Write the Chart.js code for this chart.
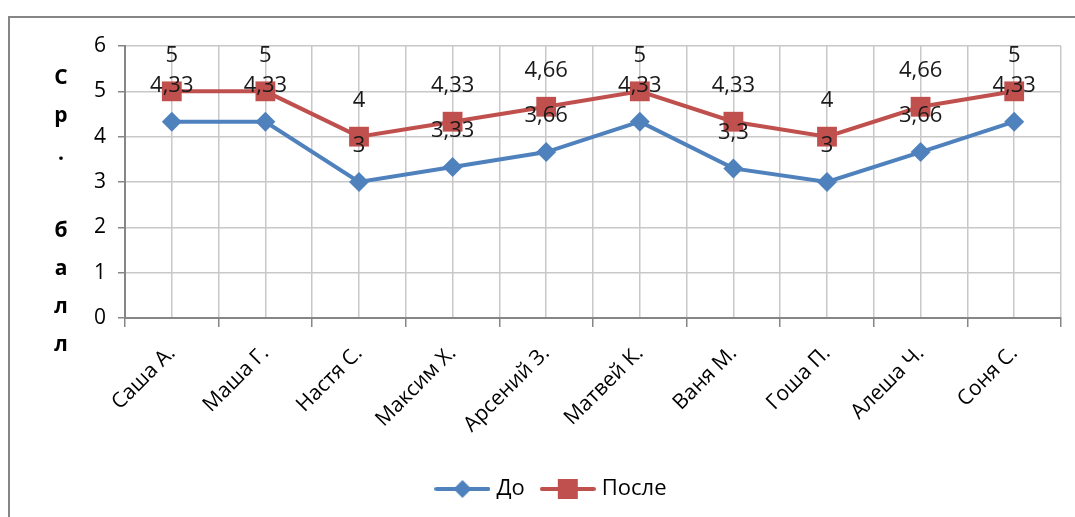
<!DOCTYPE html>
<html>
<head>
<meta charset="utf-8">
<script src="https://cdn.jsdelivr.net/npm/chart.js@4.4.0/dist/chart.umd.min.js"></script>
<style>
  html, body { margin: 0; padding: 0; background: #fff; }
  canvas { display: block; }
</style>
</head>
<body>
<canvas id="scoreChart" width="1075" height="517"></canvas>
<script>
// === data ===
const pupils = ['Саша А.','Маша Г.','Настя С.','Максим Х.','Арсений З.','Матвей К.','Ваня М.','Гоша П.','Алеша Ч.','Соня С.'];
const before = [4.33, 4.33, 3, 3.33, 3.66, 4.33, 3.3, 3, 3.66, 4.33];
const after  = [5, 5, 4, 4.33, 4.66, 5, 4.33, 4, 4.66, 5];
const seriesNames = ['До', 'После'];
const yTicks = [0, 1, 2, 3, 4, 5, 6];
const yTitleLetters = ['С','р','.','','б','а','л','л'];

const BLUE = '#4F81BD', RED = '#C0504D';
const FONT = "'Open Sans', 'Liberation Sans', sans-serif";

// legend swatch: line with the marker in the middle
function swatch(color, kind) {
  const c = document.createElement('canvas');
  c.width = 56; c.height = 22;
  const g = c.getContext('2d');
  g.strokeStyle = color; g.lineWidth = 4; g.lineCap = 'round';
  g.beginPath(); g.moveTo(2, 11); g.lineTo(54, 11); g.stroke();
  g.fillStyle = color;
  if (kind === 'diamond') {
    g.beginPath(); g.moveTo(28, 2); g.lineTo(37, 11); g.lineTo(28, 20); g.lineTo(19, 11); g.closePath(); g.fill();
  } else {
    g.fillRect(18, 1, 20, 20);
  }
  return c;
}
const swatches = [swatch(BLUE, 'diamond'), swatch(RED, 'square')];

// frame round the chart (cut off on the right and bottom)
const framePlugin = {
  id: 'frame',
  beforeDraw(chart) {
    const c = chart.ctx;
    c.save();
    c.fillStyle = '#fff';
    c.fillRect(0, 0, chart.width, chart.height);
    c.strokeStyle = '#868686'; c.lineWidth = 2;
    c.beginPath();
    c.moveTo(9, chart.height); c.lineTo(9, 17); c.lineTo(chart.width, 17);
    c.stroke();
    c.restore();
  }
};

// stacked letters for the y-axis title
const yTitlePlugin = {
  id: 'yTitle',
  afterDraw(chart) {
    const c = chart.ctx;
    c.save();
    c.font = "bold 21px " + FONT;
    c.fillStyle = '#000';
    c.textAlign = 'center'; c.textBaseline = 'middle';
    yTitleLetters.forEach((ch, i) => c.fillText(ch, 61, 78 + i * 38.2));
    c.restore();
  }
};

// value labels above each point
const valueLabels = {
  id: 'valueLabels',
  afterDatasetsDraw(chart) {
    const c = chart.ctx;
    c.save();
    c.font = "22px " + FONT;
    c.fillStyle = '#1a1a1a';
    c.textAlign = 'center'; c.textBaseline = 'middle';
    chart.data.datasets.forEach((ds, di) => {
      chart.getDatasetMeta(di).data.forEach((pt, i) => {
        c.fillText(String(ds.data[i]).replace('.', ','), pt.x, pt.y - 36);
      });
    });
    c.restore();
  }
};

const chart = new Chart(document.getElementById('scoreChart').getContext('2d'), {
  type: 'line',
  data: {
    labels: pupils,
    datasets: [
      { label: seriesNames[0], data: before, borderColor: BLUE, backgroundColor: BLUE,
        borderWidth: 4, pointStyle: 'rectRot', pointRadius: 10, pointBorderWidth: 0, tension: 0 },
      { label: seriesNames[1], data: after, borderColor: RED, backgroundColor: RED,
        borderWidth: 4, pointStyle: 'rect', pointRadius: 14, pointBorderWidth: 0, tension: 0 }
    ]
  },
  options: {
    responsive: false,
    animation: false,
    layout: { padding: { left: 44, top: 46, right: 13, bottom: 7 } },
    plugins: {
      tooltip: { enabled: false },
      legend: {
        position: 'bottom',
        labels: {
          usePointStyle: true,
          pointStyleWidth: 46,
          padding: 20,
          color: '#000',
          font: { family: FONT, size: 22 },
          generateLabels: ch => ch.data.datasets.map((ds, i) => ({
            text: ds.label, pointStyle: swatches[i], fillStyle: ds.borderColor,
            strokeStyle: ds.borderColor, lineWidth: 0, datasetIndex: i, hidden: false
          }))
        }
      }
    },
    scales: {
      x: {
        offset: true,
        grid: { offset: true, color: '#c8c8c8', lineWidth: 1.5, tickLength: 9, tickColor: '#868686' },
        border: { color: '#868686', width: 2 },
        ticks: { color: '#000', font: { family: FONT, size: 21 }, maxRotation: 45, minRotation: 45, padding: 14 },
        afterFit: s => { s.height = 140; }
      },
      x2: {
        type: 'category',
        position: 'bottom',
        offset: true,
        grid: { offset: false, color: '#c8c8c8', lineWidth: 1.5, drawTicks: false },
        border: { display: false },
        ticks: { display: false },
        afterFit: s => { s.height = 0; }
      },
      y: {
        min: 0, max: 6,
        afterBuildTicks: s => { s.ticks = yTicks.map(v => ({ value: v })); },
        grid: { color: '#c8c8c8', lineWidth: 1.5, tickLength: 7, tickColor: '#868686' },
        border: { color: '#868686', width: 2 },
        ticks: { color: '#000', font: { family: FONT, size: 21 }, padding: 12 },
        afterFit: s => { s.width = 81; }
      }
    }
  },
  plugins: [framePlugin, yTitlePlugin, valueLabels]
});
</script>
</body>
</html>
